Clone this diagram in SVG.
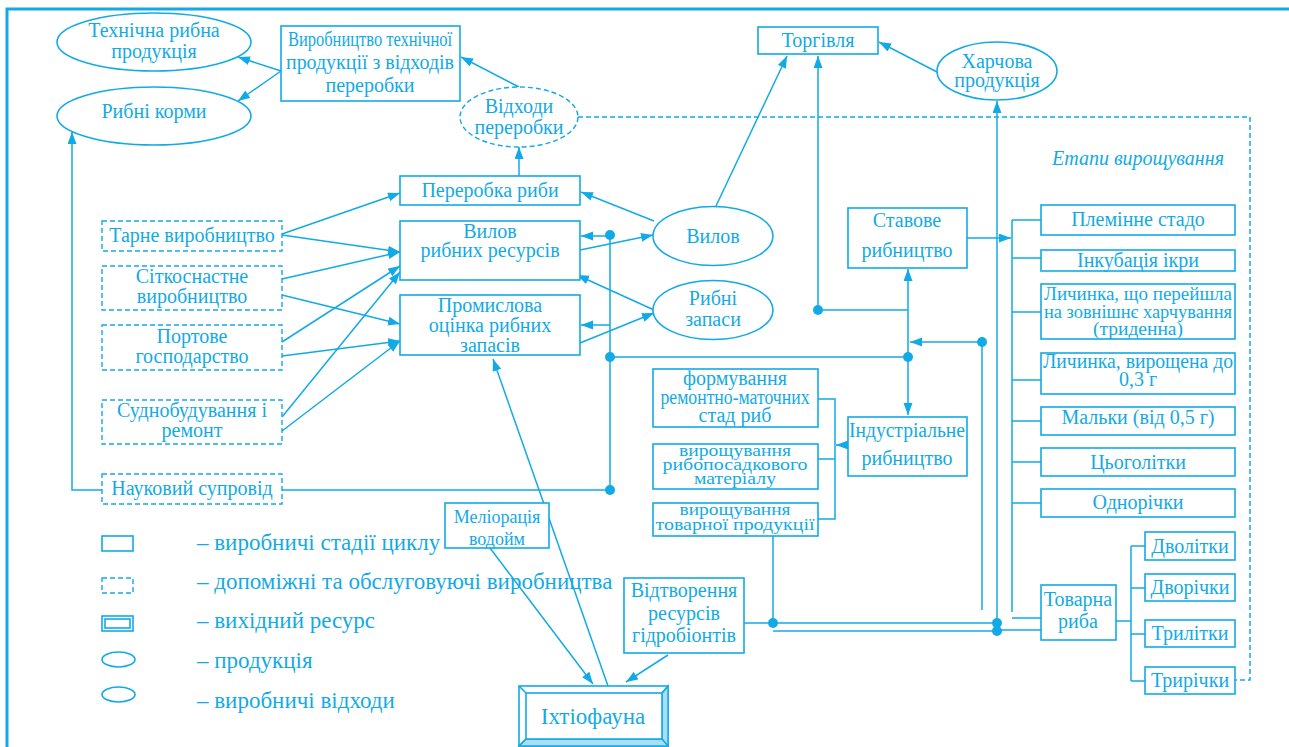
<svg xmlns="http://www.w3.org/2000/svg" width="1289" height="747" viewBox="0 0 1289 747">
<defs>
<marker id="ah" markerUnits="userSpaceOnUse" markerWidth="14" markerHeight="10" refX="12" refY="4.5" orient="auto"><path d="M0,0 L12,4.5 L0,9 z" fill="#12aae6"/></marker>
<style>
.b{fill:#fff;stroke:#12aae6;stroke-width:1.6}
.d{fill:#fff;stroke:#12aae6;stroke-width:1.4;stroke-dasharray:5 3}
.l{fill:none;stroke:#12aae6;stroke-width:1.5}
.a{fill:none;stroke:#12aae6;stroke-width:1.5;marker-end:url(#ah)}
.dl{fill:none;stroke:#12aae6;stroke-width:1.5;stroke-dasharray:5 3}
.dot{fill:#12aae6}
.bev{fill:#a9def5;stroke:#12aae6;stroke-width:1.4}
text{font-family:"Liberation Serif","Times New Roman",serif;font-size:20px;fill:#12aae6;text-anchor:middle}
.it{font-style:italic}
.lg{text-anchor:start;font-size:23px}
.s{font-size:18px}
.t{font-size:17px}
</style>
</defs>
<rect width="1289" height="747" fill="#fff"/>
<path d="M7,747 V9 H1289" fill="none" stroke="#12aae6" stroke-width="3"/>

<g id="connectors">
<path class="a" d="M281,71 L238,57"/>
<path class="a" d="M281,71 L238,101"/>
<path class="a" d="M519,87 L461,57"/>
<path class="a" d="M519,176 L519,147"/>
<path class="dl" d="M578,117 H1250 V680 H1235"/>
<path class="a" d="M102,490 H72 V132"/>
<path class="a" d="M282,234 L400,193"/>
<path class="a" d="M282,235 L400,252"/>
<path class="a" d="M282,279 L400,252"/>
<path class="a" d="M282,295 L400,324"/>
<path class="a" d="M282,342 L400,266"/>
<path class="a" d="M282,356 L400,341"/>
<path class="a" d="M282,417 L400,272"/>
<path class="a" d="M282,431 L400,341"/>
<path class="l" d="M282,490 H610"/>
<path class="l" d="M610,235 V490"/>
<path class="a" d="M610,236 H581"/>
<path class="a" d="M610,325 H581"/>
<path class="l" d="M610,357 H908"/>
<path class="a" d="M580,250 L653,235"/>
<path class="a" d="M654,221 L581,192"/>
<path class="a" d="M654,310 L577,275"/>
<path class="a" d="M580,343 L654,313"/>
<path class="a" d="M716,206 L787,56"/>
<path class="a" d="M818,310 V56"/>
<path class="l" d="M818,310 H908"/>
<path class="a" d="M937,72 L879,42"/>
<path class="a" d="M908,357 V269"/>
<path class="a" d="M908,357 V415"/>
<path class="a" d="M982,342 H910"/>
<path class="l" d="M982,342 V610"/>
<path class="a" d="M997,623 V101"/>
<path class="a" d="M967,238 H1011"/>
<path class="l" d="M1012,220 V612 M1012,220 H1041 M1012,258 H1041 M1012,312 H1041 M1012,380 H1041 M1012,421 H1041 M1012,462 H1041 M1012,503 H1041"/>
<path class="a" d="M848,445 H836"/>
<path class="l" d="M818,399 H835 V519 H818 M818,459 H835"/>
<path class="l" d="M773,536 V623"/>
<path class="l" d="M744,623 H997 M773,631 H997 M997,630 H1041 M1012,618 H1041"/>
<path class="l" d="M1116,621 H1131 M1131,546 V681 M1131,546 H1145 M1131,588 H1145 M1131,634 H1145 M1131,681 H1145"/>
<path class="a" d="M490,548 L593,684"/>
<path class="a" d="M608,686 L493,359"/>
<path class="a" d="M668,655 L626,682"/>
<circle class="dot" cx="610" cy="235" r="5"/>
<circle class="dot" cx="610" cy="357" r="5"/>
<circle class="dot" cx="610" cy="490" r="5"/>
<circle class="dot" cx="818" cy="310" r="5"/>
<circle class="dot" cx="908" cy="357" r="5"/>
<circle class="dot" cx="982" cy="342" r="5"/>
<circle class="dot" cx="773" cy="623" r="5"/>
<circle class="dot" cx="997" cy="623" r="5"/>
<circle class="dot" cx="997" cy="631" r="5"/>
</g>

<g id="n-tech"><ellipse class="b" cx="154" cy="42" rx="97" ry="29"/><text x="154" y="37">Технічна рибна</text><text x="154" y="58">продукція</text></g>
<g id="n-kormy"><ellipse class="b" cx="154" cy="116" rx="97" ry="29"/><text x="154" y="118">Рибні корми</text></g>
<g id="n-vyrob"><rect class="b" x="281" y="26" width="179" height="75"/><text x="370" y="46" textLength="164" lengthAdjust="spacingAndGlyphs">Виробництво технічної</text><text x="370" y="69" textLength="168" lengthAdjust="spacingAndGlyphs">продукції з відходів</text><text x="370" y="92">переробки</text></g>
<g id="n-vidkhody"><ellipse class="d" cx="519" cy="117" rx="59" ry="30"/><text x="519" y="113">Відходи</text><text x="519" y="134">переробки</text></g>
<g id="n-pererobka"><rect class="b" x="400" y="176" width="180" height="29"/><text x="490" y="197">Переробка риби</text></g>
<g id="n-torgivlia"><rect class="b" x="758" y="27" width="120" height="27"/><text x="818" y="47">Торгівля</text></g>
<g id="n-kharchova"><ellipse class="b" cx="997" cy="71" rx="60" ry="29"/><text x="997" y="68">Харчова</text><text x="997" y="87">продукція</text></g>
<text class="it" x="1138" y="165">Етапи вирощування</text>

<g id="n-tarne"><rect class="d" x="102" y="221" width="180" height="30"/><text x="192" y="242">Тарне виробництво</text></g>
<g id="n-sitko"><rect class="d" x="102" y="266" width="180" height="44"/><text x="192" y="283">Сіткоснастне</text><text x="192" y="303">виробництво</text></g>
<g id="n-port"><rect class="d" x="102" y="325" width="180" height="45"/><text x="192" y="343">Портове</text><text x="192" y="363">господарство</text></g>
<g id="n-sudno"><rect class="d" x="102" y="400" width="180" height="44"/><text x="192" y="417">Суднобудування і</text><text x="192" y="437">ремонт</text></g>
<g id="n-nauka"><rect class="d" x="102" y="474" width="180" height="30"/><text x="192" y="495">Науковий супровід</text></g>

<g id="n-vylov-res"><rect class="b" x="400" y="221" width="180" height="59"/><text x="490" y="238">Вилов</text><text x="490" y="257">рибних ресурсів</text></g>
<g id="n-promyslova"><rect class="b" x="400" y="295" width="180" height="60"/><text x="490" y="312">Промислова</text><text x="490" y="332">оцінка рибних</text><text x="490" y="352">запасів</text></g>
<g id="n-vylov"><ellipse class="b" cx="713" cy="236" rx="60" ry="29.5"/><text x="713" y="243">Вилов</text></g>
<g id="n-zapasy"><ellipse class="b" cx="713" cy="310" rx="60" ry="29.5"/><text x="713" y="305">Рибні</text><text x="713" y="326">запаси</text></g>

<g id="n-stavove"><rect class="b" x="848" y="208" width="119" height="60"/><text x="907" y="227">Ставове</text><text x="907" y="257">рибництво</text></g>
<g id="n-industr"><rect class="b" x="848" y="417" width="119" height="59"/><text x="907" y="437" textLength="116" lengthAdjust="spacingAndGlyphs">Індустріальне</text><text x="907" y="465">рибництво</text></g>
<g id="n-formuv"><rect class="b" x="653" y="369" width="165" height="58"/><text x="735" y="385">формування</text><text x="735" y="404" textLength="149" lengthAdjust="spacingAndGlyphs">ремонтно-маточних</text><text x="735" y="422">стад риб</text></g>
<g id="n-rybopos"><rect class="b" x="653" y="444" width="165" height="45"/><text class="t" x="735" y="456" textLength="112" lengthAdjust="spacingAndGlyphs">вирощування</text><text class="t" x="735" y="470" textLength="145" lengthAdjust="spacingAndGlyphs">рибопосадкового</text><text class="t" x="735" y="484" textLength="82" lengthAdjust="spacingAndGlyphs">матеріалу</text></g>
<g id="n-tovarnoi"><rect class="b" x="653" y="503" width="165" height="33"/><text class="t" x="735" y="515" textLength="111" lengthAdjust="spacingAndGlyphs">вирощування</text><text class="t" x="735" y="530" textLength="159" lengthAdjust="spacingAndGlyphs">товарної продукції</text></g>

<g id="n-s1"><rect class="b" x="1041" y="205" width="194" height="30"/><text x="1138" y="226">Племінне стадо</text></g>
<g id="n-s2"><rect class="b" x="1041" y="250" width="194" height="21"/><text x="1138" y="267">Інкубація ікри</text></g>
<g id="n-s3"><rect class="b" x="1041" y="284" width="194" height="55"/><text class="s" x="1138" y="300" textLength="188" lengthAdjust="spacingAndGlyphs">Личинка, що перейшла</text><text class="s" x="1138" y="318" textLength="188" lengthAdjust="spacingAndGlyphs">на зовнішнє харчування</text><text class="s" x="1138" y="335" textLength="90" lengthAdjust="spacingAndGlyphs">(триденна)</text></g>
<g id="n-s4"><rect class="b" x="1041" y="353" width="194" height="41"/><text x="1138" y="368" textLength="190" lengthAdjust="spacingAndGlyphs">Личинка, вирощена до</text><text x="1138" y="386">0,3 г</text></g>
<g id="n-s5"><rect class="b" x="1041" y="407" width="194" height="28"/><text x="1138" y="424">Мальки (від 0,5 г)</text></g>
<g id="n-s6"><rect class="b" x="1041" y="448" width="194" height="28"/><text x="1138" y="469">Цьоголітки</text></g>
<g id="n-s7"><rect class="b" x="1041" y="489" width="194" height="28"/><text x="1138" y="509">Однорічки</text></g>
<g id="n-tovarna"><rect class="b" x="1041" y="585" width="75" height="55"/><text x="1078" y="606">Товарна</text><text x="1078" y="628">риба</text></g>
<g id="n-t1"><rect class="b" x="1145" y="532" width="90" height="28"/><text x="1190" y="553">Дволітки</text></g>
<g id="n-t2"><rect class="b" x="1145" y="574" width="90" height="27"/><text x="1190" y="594">Дворічки</text></g>
<g id="n-t3"><rect class="b" x="1145" y="620" width="90" height="27"/><text x="1190" y="640">Трилітки</text></g>
<g id="n-t4"><rect class="b" x="1145" y="667" width="90" height="27"/><text x="1190" y="687">Трирічки</text></g>

<g id="n-vidtvor"><rect class="b" x="624" y="578" width="120" height="75"/><text x="684" y="597">Відтворення</text><text x="684" y="620">ресурсів</text><text x="684" y="642">гідробіонтів</text></g>
<g id="n-melior"><rect class="b" x="445" y="503" width="104" height="45"/><text class="s" x="497" y="523">Меліорація</text><text class="s" x="497" y="545">водойм</text></g>
<g id="n-ikhtio">
<rect class="b" x="519" y="686" width="149" height="60"/>
<polygon class="bev" points="662,693 668,686 668,746 662,739"/>
<polygon class="bev" points="526,739 662,739 668,746 519,746"/>
<path class="l" d="M519,686 L526,693 M668,686 L662,693 M519,746 L526,739"/>
<rect class="b" x="526" y="693" width="136" height="46"/>
<text x="593" y="724" style="font-size:23px">Іхтіофауна</text>
</g>

<g id="legend">
<rect class="b" x="102" y="536" width="31" height="15"/>
<rect class="d" x="102" y="578" width="31" height="15"/>
<rect class="b" x="102" y="616" width="31" height="15"/>
<rect class="b" x="105" y="619" width="25" height="9"/>
<ellipse class="b" cx="118.5" cy="659.5" rx="16.5" ry="7.5"/>
<ellipse class="b" cx="118.5" cy="694.5" rx="16.5" ry="7.5"/>
<text class="lg" x="197" y="550">– виробничі стадії циклу</text>
<text class="lg" x="197" y="589">– допоміжні та обслуговуючі виробництва</text>
<text class="lg" x="197" y="628">– вихідний ресурс</text>
<text class="lg" x="197" y="668">– продукція</text>
<text class="lg" x="197" y="708">– виробничі відходи</text>
</g>
</svg>
